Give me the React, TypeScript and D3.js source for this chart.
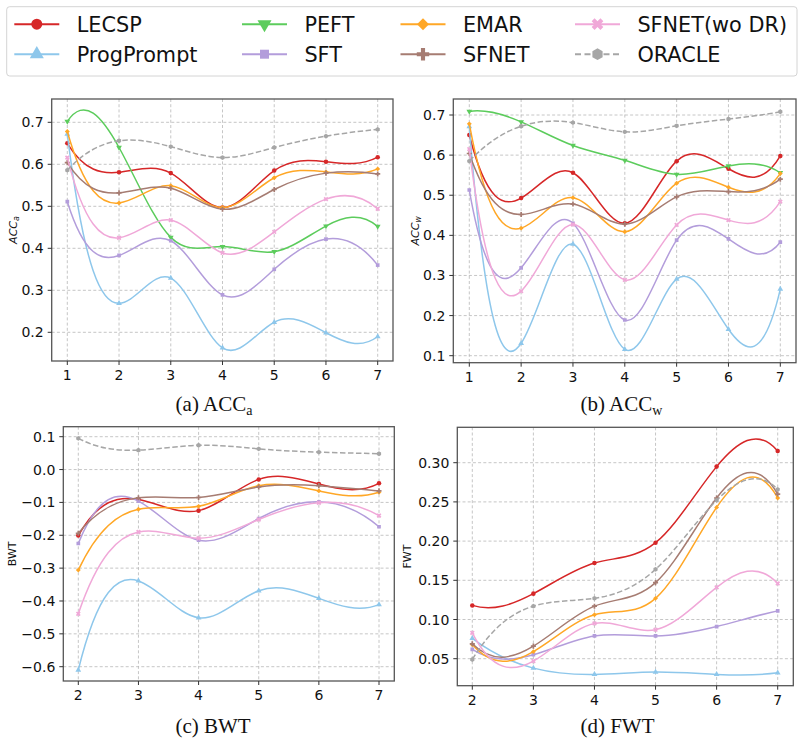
import React from 'react';
import * as d3 from 'd3';

const METHODS = ['LECSP', 'ProgPrompt', 'PEFT', 'SFT', 'EMAR', 'SFNET', 'SFNET(wo DR)', 'ORACLE'];
const COLORS = ['#d62728', '#8ec7eb', '#5ccc5c', '#b39ddb', '#ffa726', '#a67c72', '#f0a8d8', '#a6a6a6'];
const MARKERS = ['circle', 'triUp', 'triDown', 'square', 'diamond', 'plus', 'x', 'hexagon'];
const DASHED = [false, false, false, false, false, false, false, true];

const TASKS_AB = [1, 2, 3, 4, 5, 6, 7];
const TASKS_CD = [2, 3, 4, 5, 6, 7];

// rows follow METHODS order
const ACC_A: (number[] | null)[] = [
  [0.650, 0.581, 0.579, 0.497, 0.585, 0.606, 0.617],
  [0.672, 0.269, 0.329, 0.163, 0.224, 0.199, 0.190],
  [0.702, 0.640, 0.426, 0.404, 0.392, 0.453, 0.452],
  [0.511, 0.383, 0.418, 0.289, 0.350, 0.422, 0.360],
  [0.678, 0.508, 0.549, 0.497, 0.568, 0.582, 0.589],
  [0.604, 0.532, 0.543, 0.493, 0.540, 0.579, 0.577],
  [0.616, 0.425, 0.467, 0.389, 0.439, 0.517, 0.494],
  [0.586, 0.656, 0.642, 0.616, 0.640, 0.667, 0.683],
];
const ACC_W: (number[] | null)[] = [
  [0.650, 0.493, 0.556, 0.430, 0.585, 0.566, 0.598],
  [0.671, 0.131, 0.378, 0.116, 0.291, 0.166, 0.266],
  [0.709, 0.683, 0.624, 0.587, 0.552, 0.573, 0.556],
  [0.513, 0.319, 0.430, 0.189, 0.388, 0.391, 0.383],
  [0.678, 0.418, 0.494, 0.409, 0.530, 0.520, 0.554],
  [0.604, 0.452, 0.478, 0.428, 0.496, 0.509, 0.540],
  [0.615, 0.261, 0.427, 0.289, 0.426, 0.438, 0.484],
  [0.585, 0.672, 0.681, 0.658, 0.673, 0.690, 0.708],
];
const BWT: (number[] | null)[] = [
  [-0.201, -0.091, -0.125, -0.030, -0.044, -0.042],
  [-0.610, -0.339, -0.451, -0.369, -0.392, -0.411],
  null,
  [-0.225, -0.096, -0.215, -0.149, -0.098, -0.174],
  [-0.306, -0.121, -0.112, -0.049, -0.065, -0.069],
  [-0.194, -0.086, -0.085, -0.053, -0.049, -0.065],
  [-0.439, -0.190, -0.209, -0.152, -0.101, -0.140],
  [0.095, 0.059, 0.074, 0.063, 0.053, 0.048],
];
const FWT: (number[] | null)[] = [
  [0.118, 0.133, 0.172, 0.198, 0.295, 0.315],
  [0.076, 0.038, 0.030, 0.033, 0.030, 0.032],
  null,
  [0.062, 0.055, 0.079, 0.079, 0.091, 0.111],
  [0.068, 0.059, 0.106, 0.127, 0.243, 0.255],
  [0.069, 0.066, 0.117, 0.147, 0.255, 0.260],
  [0.083, 0.047, 0.095, 0.087, 0.141, 0.146],
  [0.049, 0.117, 0.127, 0.164, 0.252, 0.266],
];

const TICKS_ACC_A = [0.2, 0.3, 0.4, 0.5, 0.6, 0.7];
const TICKS_ACC_W = [0.1, 0.2, 0.3, 0.4, 0.5, 0.6, 0.7];
const TICKS_BWT = [-0.6, -0.5, -0.4, -0.3, -0.2, -0.1, 0.0, 0.1];
const TICKS_FWT = [0.05, 0.10, 0.15, 0.20, 0.25, 0.30];

// Not-a-knot cubic spline curve (like scipy make_interp_spline, k=3)
function curveNotAKnot(context: any) {
  let xs: number[] = [];
  let ys: number[] = [];
  return {
    areaStart() {},
    areaEnd() {},
    lineStart() { xs = []; ys = []; },
    point(x: number, y: number) { xs.push(+x); ys.push(+y); },
    lineEnd() {
      const n = xs.length;
      if (!n) return;
      context.moveTo(xs[0], ys[0]);
      if (n < 4) { for (let i = 1; i < n; i++) context.lineTo(xs[i], ys[i]); return; }
      const h: number[] = [];
      for (let i = 0; i < n - 1; i++) h.push(xs[i + 1] - xs[i]);
      const A: number[][] = [];
      const b: number[] = [];
      for (let i = 0; i < n; i++) { A.push(new Array(n).fill(0)); b.push(0); }
      A[0][0] = -h[1]; A[0][1] = h[0] + h[1]; A[0][2] = -h[0];
      for (let i = 1; i < n - 1; i++) {
        A[i][i - 1] = h[i - 1];
        A[i][i] = 2 * (h[i - 1] + h[i]);
        A[i][i + 1] = h[i];
        b[i] = 6 * ((ys[i + 1] - ys[i]) / h[i] - (ys[i] - ys[i - 1]) / h[i - 1]);
      }
      A[n - 1][n - 3] = -h[n - 2];
      A[n - 1][n - 2] = h[n - 3] + h[n - 2];
      A[n - 1][n - 1] = -h[n - 3];
      // gaussian elimination
      for (let c = 0; c < n; c++) {
        let p = c;
        for (let r = c + 1; r < n; r++) if (Math.abs(A[r][c]) > Math.abs(A[p][c])) p = r;
        [A[c], A[p]] = [A[p], A[c]];
        [b[c], b[p]] = [b[p], b[c]];
        for (let r = c + 1; r < n; r++) {
          const f = A[r][c] / A[c][c];
          for (let k = c; k < n; k++) A[r][k] -= f * A[c][k];
          b[r] -= f * b[c];
        }
      }
      const M = new Array(n).fill(0);
      for (let r = n - 1; r >= 0; r--) {
        let s = b[r];
        for (let k = r + 1; k < n; k++) s -= A[r][k] * M[k];
        M[r] = s / A[r][r];
      }
      const d: number[] = [];
      for (let i = 0; i < n - 1; i++) d.push((ys[i + 1] - ys[i]) / h[i] - h[i] * (2 * M[i] + M[i + 1]) / 6);
      d.push((ys[n - 1] - ys[n - 2]) / h[n - 2] + h[n - 2] * (M[n - 2] + 2 * M[n - 1]) / 6);
      for (let i = 0; i < n - 1; i++) {
        const t = h[i] / 3;
        context.bezierCurveTo(xs[i] + t, ys[i] + d[i] * t, xs[i + 1] - t, ys[i + 1] - d[i + 1] * t, xs[i + 1], ys[i + 1]);
      }
    },
  };
}

const hexagon = {
  draw(ctx: any, size: number) {
    const r = Math.sqrt((2 * size) / (3 * Math.sqrt(3)));
    for (let i = 0; i < 6; i++) {
      const a = (Math.PI / 3) * i - Math.PI / 2;
      if (i === 0) ctx.moveTo(r * Math.cos(a), r * Math.sin(a));
      else ctx.lineTo(r * Math.cos(a), r * Math.sin(a));
    }
    ctx.closePath();
  },
};

function markerPath(kind: string, size: number): { d: string; rot: number } {
  switch (kind) {
    case 'circle': return { d: d3.symbol(d3.symbolCircle, size)()!, rot: 0 };
    case 'triUp': return { d: d3.symbol(d3.symbolTriangle, size * 0.9)()!, rot: 0 };
    case 'triDown': return { d: d3.symbol(d3.symbolTriangle, size * 0.9)()!, rot: 180 };
    case 'square': return { d: d3.symbol(d3.symbolSquare, size * 0.85)()!, rot: 0 };
    case 'diamond': return { d: d3.symbol(d3.symbolSquare, size * 0.75)()!, rot: 45 };
    case 'plus': return { d: d3.symbol(d3.symbolCross, size * 0.9)()!, rot: 0 };
    case 'x': return { d: d3.symbol(d3.symbolCross, size * 0.9)()!, rot: 45 };
    default: return { d: d3.symbol(hexagon as any, size * 0.95)()!, rot: 0 };
  }
}

type PanelProps = {
  id: string;
  frame: { l: number; r: number; t: number; b: number };
  xDomain: [number, number];
  xRange: [number, number];
  yDomain: [number, number];
  yRange: [number, number];
  xs: number[];
  data: (number[] | null)[];
  yTicks: number[];
  fmt: (v: number) => string;
  yLabel: React.ReactNode;
  yLabelX: number;
  title: React.ReactNode;
  titleX: number;
  titleY: number;
};

const SANS = 'DejaVu Sans, sans-serif';

function Panel(p: PanelProps) {
  const x = d3.scaleLinear().domain(p.xDomain).range(p.xRange);
  const y = d3.scaleLinear().domain(p.yDomain).range(p.yRange);
  const { l, r, t, b } = p.frame;
  const line = d3.line<[number, number]>().x((d) => x(d[0])).y((d) => y(d[1])).curve(curveNotAKnot as any);
  const cy = (t + b) / 2;
  return (
    <g>
      <defs>
        <clipPath id={`clip-${p.id}`}>
          <rect x={l} y={t} width={r - l} height={b - t} />
        </clipPath>
      </defs>
      <rect x={l} y={t} width={r - l} height={b - t} fill="#fff" />
      {/* grid */}
      {p.xs.map((v) => (
        <line key={`gx${v}`} x1={x(v)} x2={x(v)} y1={t} y2={b} stroke="#b8b8b8" strokeWidth={0.8} strokeDasharray="3,2.2" />
      ))}
      {p.yTicks.map((v) => (
        <line key={`gy${v}`} x1={l} x2={r} y1={y(v)} y2={y(v)} stroke="#b8b8b8" strokeWidth={0.8} strokeDasharray="3,2.2" />
      ))}
      {/* series */}
      <g clipPath={`url(#clip-${p.id})`}>
        {p.data.map((vals, i) => {
          if (!vals) return null;
          const pts = vals.map((v, j) => [p.xs[j], v] as [number, number]);
          return (
            <g key={METHODS[i]}>
              <path d={line(pts)!} fill="none" stroke={COLORS[i]} strokeWidth={1.5}
                strokeDasharray={DASHED[i] ? '5.5,2.5' : undefined} />
              {pts.map((pt, j) => {
                const m = markerPath(MARKERS[i], 16);
                return (
                  <path key={j} d={m.d} fill={COLORS[i]}
                    transform={`translate(${x(pt[0])},${y(pt[1])}) rotate(${m.rot})`} />
                );
              })}
            </g>
          );
        })}
      </g>
      {/* frame */}
      <rect x={l} y={t} width={r - l} height={b - t} fill="none" stroke="#555" strokeWidth={1.3} />
      {/* x ticks */}
      {p.xs.map((v) => (
        <g key={`tx${v}`}>
          <line x1={x(v)} x2={x(v)} y1={b} y2={b + 4} stroke="#333" strokeWidth={1} />
          <text x={x(v)} y={b + 19} textAnchor="middle" fontFamily={SANS} fontSize={14} fill="#111">{v}</text>
        </g>
      ))}
      {/* y ticks */}
      {p.yTicks.map((v) => (
        <g key={`ty${v}`}>
          <line x1={l - 4} x2={l} y1={y(v)} y2={y(v)} stroke="#333" strokeWidth={1} />
          <text x={l - 8} y={y(v) + 5} textAnchor="end" fontFamily={SANS} fontSize={14} fill="#111">{p.fmt(v)}</text>
        </g>
      ))}
      <text transform={`translate(${p.yLabelX},${cy}) rotate(-90)`} textAnchor="middle" fontFamily={SANS} fontSize={11} fill="#111">
        {p.yLabel}
      </text>
      <text x={p.titleX} y={p.titleY} textAnchor="middle" fontFamily="Liberation Serif, Times New Roman, serif" fontSize={21} fill="#111">
        {p.title}
      </text>
    </g>
  );
}

function Legend() {
  const colX = [14.3, 242, 400.5, 575];
  const rowY = [24.2, 54.2];
  return (
    <g>
      <rect x={6.7} y={6.7} width={790.3} height={69.3} rx={3} fill="#fff" stroke="#d4d4d4" strokeWidth={1} />
      {METHODS.map((name, i) => {
        const cx = colX[Math.floor(i / 2)];
        const ry = rowY[i % 2];
        const m = markerPath(MARKERS[i], 95);
        return (
          <g key={name}>
            <line x1={cx} x2={cx + 45} y1={ry} y2={ry} stroke={COLORS[i]} strokeWidth={2}
              strokeDasharray={DASHED[i] ? '6,3.5' : undefined} />
            <path d={m.d} fill={COLORS[i]} transform={`translate(${cx + 22.5},${ry}) rotate(${m.rot})`} />
            <text x={cx + 62.4} y={ry + 7.6} fontFamily={SANS} fontSize={20.8} fill="#111">{name}</text>
          </g>
        );
      })}
    </g>
  );
}

export default function App() {
  const f1 = d3.format('.1f');
  const f2 = d3.format('.2f');
  return (
    <svg width={803} height={743} style={{ position: 'absolute', left: 0, top: 0, background: '#fff' }}>
      <rect width={803} height={743} fill="#fff" />
      <Legend />
      <Panel id="a" frame={{ l: 51.7, r: 393, t: 99, b: 361 }}
        xDomain={[1, 7]} xRange={[67.3, 377.7]} yDomain={[0.2, 0.7]} yRange={[332.3, 122.3]}
        xs={TASKS_AB} data={ACC_A} yTicks={TICKS_ACC_A} fmt={f1}
        yLabel={<tspan fontStyle="italic">ACC<tspan fontSize={8} dy={2}>a</tspan></tspan>} yLabelX={16.7}
        title={<>(a) ACC<tspan fontSize={14} dy={4}>a</tspan></>} titleX={214} titleY={410.5} />
      <Panel id="b" frame={{ l: 453.3, r: 796, t: 99, b: 362.7 }}
        xDomain={[1, 7]} xRange={[469.3, 780.3]} yDomain={[0.1, 0.7]} yRange={[355.7, 115]}
        xs={TASKS_AB} data={ACC_W} yTicks={TICKS_ACC_W} fmt={f1}
        yLabel={<tspan fontStyle="italic">ACC<tspan fontSize={8} dy={2}>w</tspan></tspan>} yLabelX={418.5}
        title={<>(b) ACC<tspan fontSize={14} dy={4}>w</tspan></>} titleX={621.5} titleY={410.5} />
      <Panel id="c" frame={{ l: 63.3, r: 394.3, t: 426.7, b: 681 }}
        xDomain={[2, 7]} xRange={[78.3, 379]} yDomain={[-0.6, 0.1]} yRange={[666.7, 436.7]}
        xs={TASKS_CD} data={BWT} yTicks={TICKS_BWT} fmt={f1}
        yLabel={<>BWT</>} yLabelX={15.7}
        title={<>(c) BWT</>} titleX={213} titleY={733} />
      <Panel id="d" frame={{ l: 457.3, r: 793.3, t: 427.3, b: 685.7 }}
        xDomain={[2, 7]} xRange={[472.3, 777.7]} yDomain={[0.05, 0.30]} yRange={[658.7, 462.7]}
        xs={TASKS_CD} data={FWT} yTicks={TICKS_FWT} fmt={f2}
        yLabel={<>FWT</>} yLabelX={411.3}
        title={<>(d) FWT</>} titleX={617.5} titleY={732.5} />
    </svg>
  );
}
